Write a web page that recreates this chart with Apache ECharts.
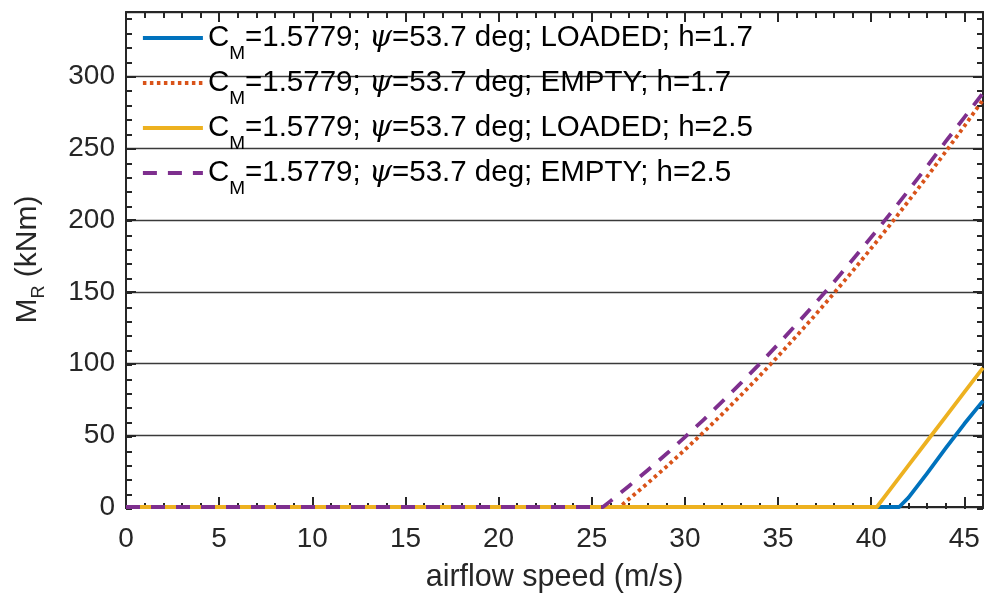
<!DOCTYPE html>
<html><head><meta charset="utf-8">
<script src="https://cdn.jsdelivr.net/npm/echarts@6/dist/echarts.min.js"></script>
<style>html,body{margin:0;padding:0;background:#fff}#c{width:990px;height:598px}</style>
</head><body><div id="c"></div>
<script>
// ---- data ----
const seriesNames = ['LOADED; h=1.7', 'EMPTY; h=1.7', 'LOADED; h=2.5', 'EMPTY; h=2.5'];
const seriesColors = ['#0072BD', '#D95319', '#EDB120', '#7E2F8E'];

const speedLoaded17 = [0, 41.5, 42, 43, 44, 45, 46];
const momentLoaded17 = [0, 0, 6.5, 23.5, 41, 58, 74];

const speedEmpty17 = [0, 26.5, 27, 28, 29, 30, 31, 32, 33, 34, 35, 36, 37, 38, 39, 40, 41, 42, 43, 44, 45, 46];
const momentEmpty17 = [0, 0, 5.6, 16.6, 28, 39.9, 52.1, 64.7, 77.8, 91.2, 105.1, 119.3, 133.9, 149, 164.4, 180.3, 196.5, 213.2, 230.2, 247.7, 265.5, 283.8];

const speedLoaded25 = [0, 40.3, 41, 42, 43, 44, 45, 46];
const momentLoaded25 = [0, 0, 12, 29, 46, 63, 80, 97];

const speedEmpty25 = [0, 25.6, 26, 27, 28, 29, 30, 31, 32, 33, 34, 35, 36, 37, 38, 39, 40, 41, 42, 43, 44, 45, 46];
const momentEmpty25 = [0, 0, 4.1, 14.7, 25.6, 36.9, 48.7, 60.8, 73.4, 86.3, 99.6, 113.4, 127.5, 142, 156.9, 172.3, 188, 204.1, 220.6, 237.5, 254.8, 271.5, 288.5];

const xMin = 0, xMax = 46, xMajor = 5, xMinor = 1;
const yMin = 0, yMax = 345, yMajor = 50, yMinor = 10;

// ---- chart ----
const FONT = '"Liberation Sans", Arial, Helvetica, sans-serif';
const INK = '#262626';
const LW = 3.8;
const pair = (xs, ys) => xs.map((x, i) => [x, ys[i]]);
const seriesData = [
  pair(speedLoaded17, momentLoaded17),
  pair(speedEmpty17, momentEmpty17),
  pair(speedLoaded25, momentLoaded25),
  pair(speedEmpty25, momentEmpty25)
];
const dashTypes = ['solid', [3.5, 3.5], 'solid', [14, 11]];

const chart = echarts.init(document.getElementById('c'), null, {renderer: 'canvas'});

function axisBase(extra) {
  return Object.assign({
    type: 'value',
    axisLine: {show: true, onZero: false, lineStyle: {color: INK, width: 2}},
    axisTick: {show: true, inside: true, length: 10, lineStyle: {color: INK, width: 2}},
    axisLabel: {show: false},
    splitLine: {show: false}
  }, extra);
}
function minorAxis(extra) {
  return Object.assign({
    type: 'value',
    axisLine: {show: false, onZero: false},
    axisTick: {show: true, inside: true, length: 6, lineStyle: {color: INK, width: 2}},
    axisLabel: {show: false},
    splitLine: {show: false}
  }, extra);
}

const legendRowCenters = [37, 82, 127, 172];
const legends = seriesNames.map((nm, i) => ({
  data: [nm],
  orient: 'vertical',
  left: 141,
  top: legendRowCenters[i] - 14,
  padding: 0,
  itemWidth: 60,
  itemHeight: 14,
  selectedMode: false,
  itemStyle: {opacity: 0},
  lineStyle: {width: LW, color: seriesColors[i], type: dashTypes[i], cap: 'butt'},
  formatter: n => '{n|C}{s|M}{n|=1.5779; }{i|\u03C8}{n|=53.7 deg; ' + n + '}',
  textStyle: {
    color: '#000',
    fontFamily: FONT,
    fontSize: 29.5,
    rich: {
      n: {fontSize: 29.5, fontFamily: FONT, color: '#000'},
      s: {fontSize: 19, fontFamily: FONT, color: '#000', padding: [32, 0, 0, 0]},
      i: {fontSize: 29.5, fontFamily: '"DejaVu Serif", serif', fontStyle: 'italic', color: '#000'}
    }
  }
}));

const option = {
  animation: false,
  backgroundColor: '#fff',
  grid: [
    {left: 126, right: 7, top: 12, bottom: 89, show: false},
    {left: 126, right: 7, top: 12, bottom: 89, show: false}
  ],
  legend: legends,
  xAxis: [
    axisBase({
      gridIndex: 0, position: 'bottom', min: xMin, max: xMax, interval: xMajor,
      axisLabel: {show: true, margin: 18, fontSize: 28, color: INK, fontFamily: FONT, showMaxLabel: false},
      name: 'airflow speed (m/s)', nameLocation: 'middle', nameGap: 55,
      nameTextStyle: {fontSize: 30.5, color: INK, fontFamily: FONT}
    }),
    axisBase({gridIndex: 0, position: 'top', min: xMin, max: xMax, interval: xMajor}),
    minorAxis({gridIndex: 1, position: 'bottom', min: xMin, max: xMax, interval: xMinor}),
    minorAxis({gridIndex: 1, position: 'top', min: xMin, max: xMax, interval: xMinor})
  ],
  yAxis: [
    axisBase({
      gridIndex: 0, position: 'left', min: yMin, max: yMax, interval: yMajor,
      axisLabel: {show: true, margin: 11, fontSize: 28, color: INK, fontFamily: FONT, showMaxLabel: false},
      splitLine: {show: true, lineStyle: {color: '#3a3a3a', width: 1.3}},
      name: '{n|M}{s|R}{n| (kNm)}', nameLocation: 'middle', nameGap: 78,
      nameTextStyle: {
        fontSize: 30, color: INK, fontFamily: FONT,
        rich: {
          n: {fontSize: 30, color: INK, fontFamily: FONT},
          s: {fontSize: 18, color: INK, fontFamily: FONT, padding: [22, 0, 0, 0]}
        }
      }
    }),
    axisBase({gridIndex: 0, position: 'right', min: yMin, max: yMax, interval: yMajor}),
    minorAxis({gridIndex: 1, position: 'left', min: yMin, max: yMax, interval: yMinor}),
    minorAxis({gridIndex: 1, position: 'right', min: yMin, max: yMax, interval: yMinor})
  ],
  series: seriesNames.map((nm, i) => ({
    name: nm,
    type: 'line',
    xAxisIndex: 0,
    yAxisIndex: 0,
    data: seriesData[i],
    symbol: 'none',
    color: seriesColors[i],
    lineStyle: {color: seriesColors[i], width: LW, type: dashTypes[i], cap: 'butt', join: 'round'},
    z: 3 + i
  }))
};
chart.setOption(option);
</script>
</body></html>
